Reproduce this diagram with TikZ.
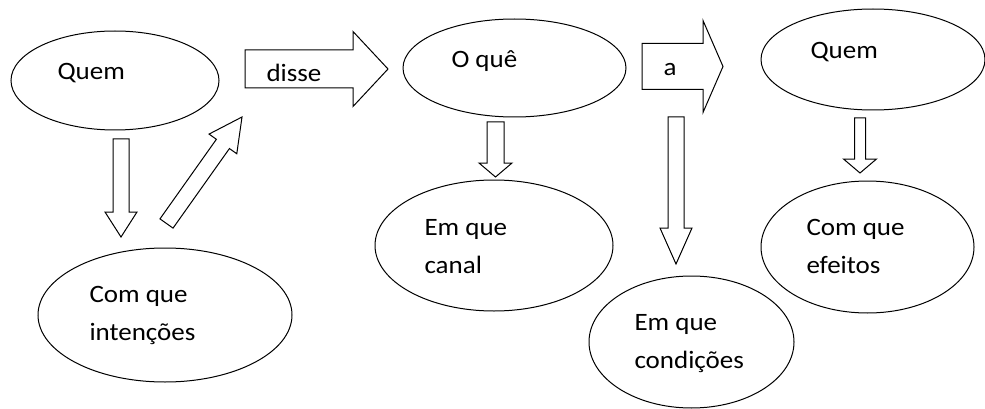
\documentclass[tikz,border=0pt]{standalone}
\usepackage{fontspec}
\setmainfont{Carlito}[FakeStretch=1.08]
\usetikzlibrary{calc,shapes.geometric}

% block arrow: tail, tip, shaft half width, head half width, head length
\newcommand{\blockarrow}[5]{%
	\coordinate (ba-tail) at #1;
	\coordinate (ba-tip) at #2;
	\coordinate (ba-neck) at ($(ba-tip)!#5pt!(ba-tail)$);
	\draw[arrowbox] ($(ba-tail)!#3pt!90:(ba-tip)$) -- ($(ba-neck)!#3pt!90:(ba-tip)$)
		-- ($(ba-neck)!#4pt!90:(ba-tip)$) -- (ba-tip) -- ($(ba-neck)!#4pt!-90:(ba-tip)$)
		-- ($(ba-neck)!#3pt!-90:(ba-tip)$) -- ($(ba-tail)!#3pt!-90:(ba-tip)$) -- cycle;
}

\begin{document}
\begin{tikzpicture}[x=1pt, y=-1pt, line width=1pt,
	every node/.style={font=\fontsize{25}{38}\selectfont},
	bubble/.style={ellipse, draw, inner sep=0pt},
	lbl/.style={anchor=base west, inner sep=0pt, align=left},
	arrowbox/.style={draw, line join=miter}]
	\useasboundingbox (0,0) rectangle (985,409);
	% ellipses
	\node[bubble, minimum width=208pt, minimum height=99pt]  (quem1)     at (115,80.5)  {};
	\node[bubble, minimum width=254pt, minimum height=134pt] (intencoes) at (165,315)   {};
	\node[bubble, minimum width=223pt, minimum height=98pt]  (oque)      at (514.5,68)  {};
	\node[bubble, minimum width=238pt, minimum height=131pt] (canal)     at (494,245.5) {};
	\node[bubble, minimum width=205pt, minimum height=132pt] (condicoes) at (691.5,342) {};
	\node[bubble, minimum width=224pt, minimum height=101pt] (quem2)     at (873,59.5)  {};
	\node[bubble, minimum width=213pt, minimum height=132pt] (efeitos)   at (867.5,247) {};
	% block arrows
	\foreach \ax/\ay/\bx/\by/\w/\h/\l in {
		245/69/388/69/19/37.5/35,
		642/66.5/723/66.5/23/46/20,
		121/139/121/237/8/16/25,
		166.5/223.5/242/117/8/17/33,
		495.5/122/495.5/177/8.5/16.5/14,
		676/117/676/264/8/16/36,
		860/118/860/173/5.5/16.5/14}
	{\blockarrow{(\ax,\ay)}{(\bx,\by)}{\w}{\h}{\l}}
	% texts (base = last line)
	\node[lbl] (quem1-t)     at (57,80)   {Quem};
	\node[lbl] (disse-t)     at (266,82)  {disse};
	\node[lbl] (oque-t)      at (451,68)  {O quê};
	\node[lbl] (a-t)         at (663,76)  {a};
	\node[lbl] (quem2-t)     at (810,59)  {Quem};
	\node[lbl] (intencoes-t) at (89,340)  {Com que\\intenções};
	\node[lbl] (canal-t)     at (424,273) {Em que\\canal};
	\node[lbl] (condicoes-t) at (634,368) {Em que\\condições};
	\node[lbl] (efeitos-t)   at (806,273) {Com que\\efeitos};
\end{tikzpicture}
\end{document}
